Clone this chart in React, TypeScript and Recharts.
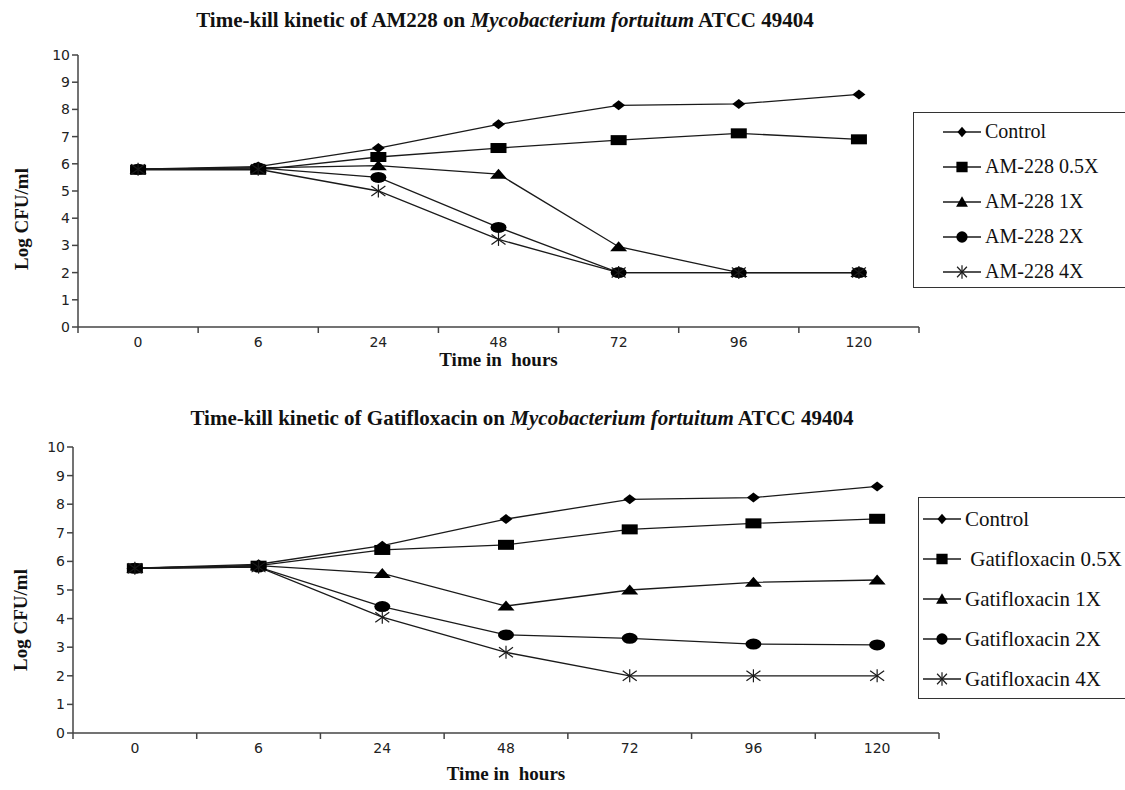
import React from 'react';
import { LineChart, Line, XAxis, YAxis, Legend } from 'recharts';

const hours = ['0', '6', '24', '48', '72', '96', '120'];
const yTicks = [0, 1, 2, 3, 4, 5, 6, 7, 8, 9, 10];

// AM228
const amNames = ['Control', 'AM-228 0.5X', 'AM-228 1X', 'AM-228 2X', 'AM-228 4X'];
const amControl = [5.8, 5.9, 6.58, 7.45, 8.15, 8.2, 8.55];
const amHalf = [5.78, 5.78, 6.25, 6.58, 6.87, 7.12, 6.9];
const amOne = [5.8, 5.85, 5.93, 5.62, 2.95, 2.0, 2.0];
const amTwo = [5.8, 5.85, 5.5, 3.66, 2.0, 2.0, 2.0];
const amFour = [5.8, 5.8, 5.0, 3.22, 2.0, 2.0, 2.0];

// Gatifloxacin
const gatNames = ['Control', ' Gatifloxacin 0.5X', 'Gatifloxacin 1X', 'Gatifloxacin 2X', 'Gatifloxacin 4X'];
const gatControl = [5.76, 5.9, 6.55, 7.48, 8.17, 8.23, 8.62];
const gatHalf = [5.76, 5.85, 6.4, 6.58, 7.12, 7.33, 7.49];
const gatOne = [5.76, 5.85, 5.58, 4.44, 5.0, 5.27, 5.35];
const gatTwo = [5.76, 5.8, 4.42, 3.43, 3.31, 3.11, 3.08];
const gatFour = [5.76, 5.8, 4.05, 2.82, 2.0, 2.0, 2.0];

const shapes = ['diamond', 'square', 'triangle', 'circle', 'star'];
const keys = ['s0', 's1', 's2', 's3', 's4'];

const toRows = (series: number[][]) =>
  hours.map((h, i) => {
    const row: any = { hour: h };
    series.forEach((s, k) => (row[keys[k]] = s[i]));
    return row;
  });

const amRows = toRows([amControl, amHalf, amOne, amTwo, amFour]);
const gatRows = toRows([gatControl, gatHalf, gatOne, gatTwo, gatFour]);

const INK = '#1a1a1a';
const serif = '"Liberation Serif", "Times New Roman", serif';
const tickFont = '"DejaVu Sans", sans-serif';

const Marker = ({ shape, cx, cy, w = 1, h = 1 }: any) => {
  if (cx == null || cy == null) return null;
  switch (shape) {
    case 'diamond':
      return <polygon points={`${cx},${cy - 5 * h} ${cx + 6.5 * w},${cy} ${cx},${cy + 5 * h} ${cx - 6.5 * w},${cy}`} fill="#000" />;
    case 'square':
      return <rect x={cx - 8 * w} y={cy - 5 * h} width={16 * w} height={10 * h} fill="#000" />;
    case 'triangle':
      return <polygon points={`${cx},${cy - 5.5 * h} ${cx + 8.5 * w},${cy + 4.5 * h} ${cx - 8.5 * w},${cy + 4.5 * h}`} fill="#000" />;
    case 'circle':
      return <ellipse cx={cx} cy={cy} rx={8 * w} ry={5.5 * h} fill="#000" />;
    default:
      return (
        <g stroke={INK} strokeWidth={1.2}>
          <line x1={cx - 7 * w} y1={cy - 5 * h} x2={cx + 7 * w} y2={cy + 5 * h} />
          <line x1={cx - 7 * w} y1={cy + 5 * h} x2={cx + 7 * w} y2={cy - 5 * h} />
          <line x1={cx} y1={cy - 6.5 * h} x2={cx} y2={cy + 6.5 * h} />
        </g>
      );
  }
};

const XTick = (props: any) => {
  const { x, y, payload, index, visibleTicksCount } = props;
  const half = payload.offset || 0;
  return (
    <g>
      <line x1={x - half} y1={y} x2={x - half} y2={y + 6} stroke="#444" strokeWidth={1.5} />
      {index === visibleTicksCount - 1 && (
        <line x1={x + half} y1={y} x2={x + half} y2={y + 6} stroke="#444" strokeWidth={1.5} />
      )}
      <text x={x} y={y + 20} textAnchor="middle" fontFamily={tickFont} fontSize={14} fill="#222">
        {payload.value}
      </text>
    </g>
  );
};

const LegendBox = ({ payload, cfg }: any) => {
  const items = [...(payload || [])].sort((a: any, b: any) => keys.indexOf(a.dataKey) - keys.indexOf(b.dataKey));
  return (
    <div
      style={{
        border: '1.5px solid #333',
        background: '#fff',
        boxSizing: 'border-box',
        width: cfg.legendW,
        height: cfg.legendH,
        paddingTop: cfg.legendPadTop,
        paddingLeft: cfg.legendPadLeft,
      }}
    >
      {items.map((p: any) => (
        <div key={p.dataKey} style={{ display: 'flex', alignItems: 'center', height: cfg.rowH }}>
          <svg width={38} height={20} style={{ marginRight: 4 }}>
            <line x1={0} y1={10} x2={38} y2={10} stroke={INK} strokeWidth={1.3} />
            <Marker shape={shapes[keys.indexOf(p.dataKey)]} cx={19} cy={10} w={0.7} h={1.05} />
          </svg>
          <span style={{ fontFamily: serif, fontSize: cfg.legendFont, color: '#111', whiteSpace: 'pre' }}>{p.value}</span>
        </div>
      ))}
    </div>
  );
};

const yTitle = (cfg: any) => (props: any) => {
  const vb = props.viewBox || {};
  const cy = vb.y + vb.height / 2 + cfg.yLabelDy;
  return (
    <text
      transform={`translate(${cfg.yLabelX},${cy}) rotate(-90)`}
      textAnchor="middle"
      dominantBaseline="central"
      fontFamily={serif}
      fontWeight="bold"
      fontSize={19}
      fill="#111"
    >
      Log CFU/ml
    </text>
  );
};

const KillChart = ({ cfg, rows, names, title }: any) => (
  <div style={{ position: 'absolute', left: 0, top: cfg.top, width: 1125, height: cfg.height }}>
    <div
      style={{
        position: 'absolute',
        left: cfg.titleX - 400,
        width: 800,
        top: cfg.titleY,
        textAlign: 'center',
        fontFamily: serif,
        fontWeight: 'bold',
        fontSize: 21,
        color: '#111',
        whiteSpace: 'nowrap',
      }}
    >
      {title}
    </div>
    <LineChart
      width={1125}
      height={cfg.height}
      data={rows}
      margin={{ top: cfg.plotTop, right: 1125 - cfg.plotRight, left: cfg.plotLeft - 40, bottom: cfg.height - cfg.plotBottom - 30 }}
    >
      <XAxis
        dataKey="hour"
        scale="band"
        height={30}
        tickSize={0}
        tickMargin={0}
        tickLine={false}
        interval={0}
        tick={<XTick />}
        axisLine={{ stroke: '#444', strokeWidth: 1.5 }}
        label={{
          value: 'Time in \u00a0hours',
          position: 'bottom',
          offset: cfg.xLabelOffset,
          style: { fontFamily: serif, fontWeight: 'bold', fontSize: 19, fill: '#111' },
        }}
      />
      <YAxis
        width={40}
        domain={[0, 10]}
        ticks={yTicks}
        interval={0}
        tickSize={6}
        tickLine={{ stroke: '#444', strokeWidth: 1.5 }}
        axisLine={{ stroke: '#444', strokeWidth: 1.5 }}
        tick={{ fontFamily: tickFont, fontSize: 14, fill: '#222' }}
        label={{ content: yTitle(cfg) }}
      />
      <Legend
        layout="vertical"
        align="center"
        verticalAlign="middle"
        wrapperStyle={{ left: cfg.legendX, top: cfg.legendY, width: cfg.legendW }}
        content={(p: any) => <LegendBox payload={p.payload} cfg={cfg} />}
      />
      {keys.map((k, i) => (
        <Line
          key={k}
          dataKey={k}
          name={names[i]}
          stroke={INK}
          strokeWidth={1.3}
          isAnimationActive={false}
          dot={(d: any) => (
            <g key={`${k}-${d.index}`}>
              <Marker shape={shapes[i]} cx={d.cx} cy={d.cy} />
            </g>
          )}
          activeDot={false}
        />
      ))}
    </LineChart>
  </div>
);

const topCfg = {
  top: 0,
  height: 390,
  plotTop: 55,
  plotBottom: 327,
  plotLeft: 78,
  plotRight: 919,
  titleX: 505,
  titleY: 8,
  xLabelOffset: -4,
  yLabelX: 21,
  yLabelDy: 28,
  legendX: 913,
  legendY: 112,
  legendW: 220,
  legendH: 176,
  legendPadTop: 1,
  legendPadLeft: 29,
  rowH: 35,
  legendFont: 20,
};

const bottomCfg = {
  top: 390,
  height: 400,
  plotTop: 57,
  plotBottom: 343,
  plotLeft: 73,
  plotRight: 939,
  titleX: 522,
  titleY: 16,
  xLabelOffset: 4,
  yLabelX: 20,
  yLabelDy: 30,
  legendX: 918,
  legendY: 107,
  legendW: 215,
  legendH: 202,
  legendPadTop: 1,
  legendPadLeft: 4,
  rowH: 40,
  legendFont: 21,
};

export default function App() {
  return (
    <div style={{ position: 'absolute', left: 0, top: 0, width: 1125, height: 790, overflow: 'hidden', background: '#fff' }}>
      <KillChart
        cfg={topCfg}
        rows={amRows}
        names={amNames}
        title={
          <>
            Time-kill kinetic of AM228 on <i>Mycobacterium fortuitum</i> ATCC 49404
          </>
        }
      />
      <KillChart
        cfg={bottomCfg}
        rows={gatRows}
        names={gatNames}
        title={
          <>
            Time-kill kinetic of Gatifloxacin on <i>Mycobacterium fortuitum</i> ATCC 49404
          </>
        }
      />
    </div>
  );
}
